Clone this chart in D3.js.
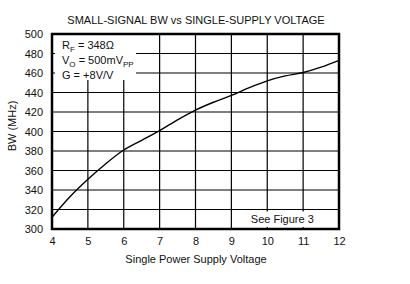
<!DOCTYPE html>
<html>
<head>
<meta charset="utf-8">
<script src="https://cdn.jsdelivr.net/npm/d3@7"></script>
<style>
  body { margin: 0; background: #fff; }
  text { font-family: "Liberation Sans", Arial, sans-serif; fill: #111; }
</style>
</head>
<body>
<div id="chart"></div>
<script>
var voltage = [4, 4.5, 5, 5.5, 6, 6.5, 7, 7.5, 8, 8.5, 9, 9.5, 10, 10.5, 11, 11.5, 12];
var bandwidth = [312, 333, 351, 367, 381, 391, 401, 412, 422, 430, 437, 445, 452, 457, 460.5, 466, 473];
var xTicks = [4, 5, 6, 7, 8, 9, 10, 11, 12];
var yTicks = [300, 320, 340, 360, 380, 400, 420, 440, 460, 480, 500];

var margin = {top: 34, right: 71, bottom: 55, left: 52};
var width = 410 - margin.left - margin.right;
var height = 284 - margin.top - margin.bottom;

var x = d3.scaleLinear().domain([4, 12]).range([0, width]);
var y = d3.scaleLinear().domain([300, 500]).range([height, 0]);

var svg = d3.select("#chart").append("svg")
    .attr("width", 410)
    .attr("height", 284);

svg.append("text")
    .attr("x", 196)
    .attr("y", 24)
    .attr("text-anchor", "middle")
    .style("font-size", "11px")
    .text("SMALL-SIGNAL BW vs SINGLE-SUPPLY VOLTAGE");

var g = svg.append("g")
    .attr("transform", "translate(" + margin.left + "," + margin.top + ")");

// grid
g.selectAll(".vgrid")
    .data(xTicks)
    .enter().append("line")
    .attr("x1", function(d) { return x(d); })
    .attr("x2", function(d) { return x(d); })
    .attr("y1", 0)
    .attr("y2", height)
    .attr("stroke", "#000")
    .attr("stroke-width", 1.2);

g.selectAll(".hgrid")
    .data(yTicks)
    .enter().append("line")
    .attr("x1", 0)
    .attr("x2", width)
    .attr("y1", function(d) { return y(d); })
    .attr("y2", function(d) { return y(d); })
    .attr("stroke", "#000")
    .attr("stroke-width", 1.2);

// white boxes behind the notes
g.append("rect")
    .attr("x", 3).attr("y", 0)
    .attr("width", 81).attr("height", 46)
    .attr("fill", "#fff");

g.append("rect")
    .attr("x", x(9) + 2).attr("y", y(320) + 2)
    .attr("width", x(12) - x(9) - 4).attr("height", y(300) - y(320) - 4)
    .attr("fill", "#fff");

// axes tick labels
g.append("g")
    .attr("transform", "translate(0," + height + ")")
    .call(d3.axisBottom(x).tickValues(xTicks).tickSize(0).tickPadding(8).tickFormat(d3.format("d")))
    .call(function(s) { s.select(".domain").remove(); })
    .selectAll("text")
    .style("font-size", "11px")
    .style("fill", "#111");

g.append("g")
    .call(d3.axisLeft(y).tickValues(yTicks).tickSize(0).tickPadding(9).tickFormat(d3.format("d")))
    .call(function(s) { s.select(".domain").remove(); })
    .selectAll("text")
    .style("font-size", "11px")
    .style("fill", "#111");

// curve
var line = d3.line()
    .x(function(d, i) { return x(voltage[i]); })
    .y(function(d) { return y(d); })
    .curve(d3.curveMonotoneX);

g.append("path")
    .attr("d", line(bandwidth))
    .attr("fill", "none")
    .attr("stroke", "#000")
    .attr("stroke-width", 1.4);

// frame
g.append("rect")
    .attr("x", 0).attr("y", 0)
    .attr("width", width).attr("height", height)
    .attr("fill", "none")
    .attr("stroke", "#000")
    .attr("stroke-width", 2.5);

// notes
var note = g.append("text").attr("x", 10).attr("y", 15).style("font-size", "11px");
note.append("tspan").text("R");
note.append("tspan").attr("dy", 3).style("font-size", "8px").text("F");
note.append("tspan").attr("dy", -3).text(" = 348Ω");

var note2 = g.append("text").attr("x", 10).attr("y", 30).style("font-size", "11px");
note2.append("tspan").text("V");
note2.append("tspan").attr("dy", 3).style("font-size", "8px").text("O");
note2.append("tspan").attr("dy", -3).text(" = 500mV");
note2.append("tspan").attr("dy", 3).style("font-size", "8px").text("PP");

g.append("text").attr("x", 10).attr("y", 45).style("font-size", "11px").text("G = +8V/V");

g.append("text")
    .attr("x", x(10.42))
    .attr("y", y(310) + 4)
    .attr("text-anchor", "middle")
    .style("font-size", "11px")
    .text("See Figure 3");

// axis titles
svg.append("text")
    .attr("x", 196)
    .attr("y", 263)
    .attr("text-anchor", "middle")
    .style("font-size", "11px")
    .text("Single Power Supply Voltage");

svg.append("text")
    .attr("transform", "translate(16,126) rotate(-90)")
    .attr("text-anchor", "middle")
    .style("font-size", "11px")
    .text("BW (MHz)");
</script>
</body>
</html>
